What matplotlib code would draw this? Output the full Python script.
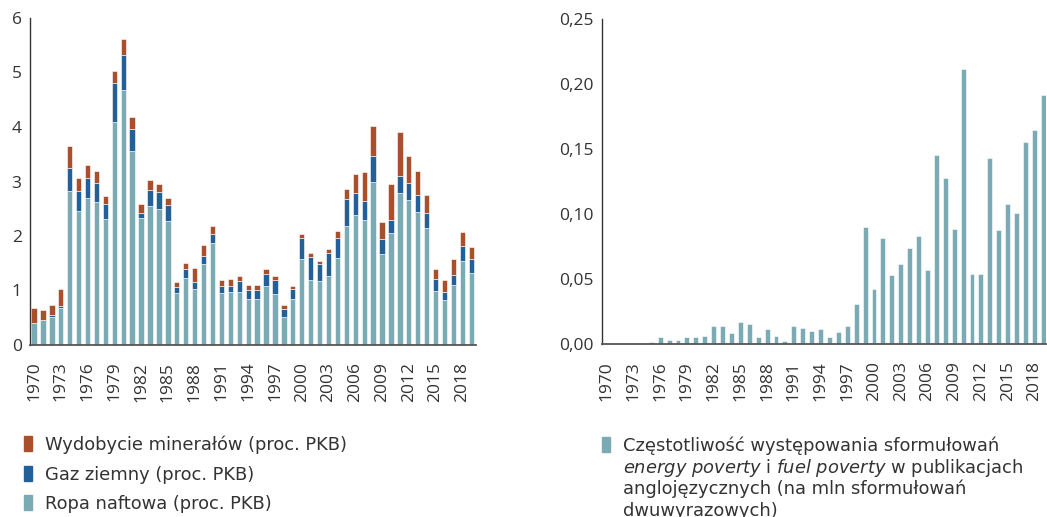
import matplotlib.pyplot as plt
from matplotlib.patches import Rectangle

plt.rcParams['font.family'] = ['Open Sans', 'DejaVu Sans']
plt.rcParams['mathtext.fontset'] = 'custom'
plt.rcParams['mathtext.it'] = 'DejaVu Sans:italic'
plt.rcParams['mathtext.rm'] = 'DejaVu Sans'

W, H = 1047, 517

years = list(range(1970, 2020))
tick_years = list(range(1970, 2020, 3))

# lewy wykres: skladniki (proc. PKB)
ropa = [0.40, 0.45, 0.52, 0.67, 2.83, 2.46, 2.70, 2.62, 2.31, 4.09,
        4.67, 3.56, 2.33, 2.55, 2.50, 2.28, 0.95, 1.23, 1.02, 1.49,
        1.87, 0.95, 0.97, 0.97, 0.84, 0.84, 1.08, 0.94, 0.51, 0.84,
        1.58, 1.19, 1.17, 1.27, 1.59, 2.18, 2.39, 2.29, 2.99, 1.67,
        2.06, 2.79, 2.66, 2.44, 2.15, 0.99, 0.83, 1.10, 1.54, 1.32]
gaz = [0.01, 0.01, 0.03, 0.05, 0.41, 0.37, 0.36, 0.35, 0.28, 0.71,
       0.65, 0.40, 0.09, 0.30, 0.31, 0.28, 0.11, 0.16, 0.14, 0.14,
       0.16, 0.13, 0.12, 0.20, 0.17, 0.17, 0.22, 0.26, 0.15, 0.18,
       0.39, 0.42, 0.31, 0.42, 0.38, 0.49, 0.39, 0.35, 0.47, 0.27,
       0.23, 0.32, 0.32, 0.31, 0.28, 0.23, 0.15, 0.18, 0.28, 0.25]
wydobycie = [0.26, 0.19, 0.18, 0.30, 0.42, 0.23, 0.24, 0.23, 0.14, 0.22,
             0.30, 0.22, 0.17, 0.18, 0.14, 0.14, 0.10, 0.12, 0.26, 0.20,
             0.15, 0.11, 0.13, 0.10, 0.10, 0.10, 0.09, 0.07, 0.08, 0.07,
             0.07, 0.07, 0.07, 0.07, 0.12, 0.19, 0.36, 0.53, 0.56, 0.31,
             0.67, 0.80, 0.49, 0.44, 0.32, 0.18, 0.22, 0.29, 0.26, 0.23]

# prawy wykres: czestotliwosc sformulowan
czestosc = [0.0008, 0.0, 0.0, 0.0003, 0.001, 0.002, 0.0054, 0.003, 0.0033, 0.006,
            0.006, 0.0064, 0.014, 0.014, 0.009, 0.017, 0.016, 0.0056, 0.012, 0.0064,
            0.0026, 0.014, 0.0128, 0.0103, 0.012, 0.0056, 0.0095, 0.014, 0.031, 0.090,
            0.0426, 0.0815, 0.053, 0.062, 0.074, 0.083, 0.057, 0.146, 0.128, 0.0887,
            0.212, 0.0538, 0.0538, 0.143, 0.088, 0.108, 0.101, 0.156, 0.165, 0.192]

c_red = '#a94f2c'
c_blue = '#236098'
c_teal = '#7aabb4'
c_text = '#333333'

fig = plt.figure(figsize=(W / 100, H / 100), dpi=100)


def box(x0, y0, x1, y1):
    return [x0 / W, 1 - y1 / H, (x1 - x0) / W, (y1 - y0) / H]


def style(ax):
    for s in ['top', 'right']:
        ax.spines[s].set_visible(False)
    ax.spines['left'].set_color('#333333')
    ax.spines['left'].set_linewidth(1.0)
    ax.spines['bottom'].set_color('#555555')
    ax.spines['bottom'].set_linewidth(1.3)
    ax.tick_params(axis='both', length=0, labelsize=12.5, colors=c_text)
    ax.tick_params(axis='y', pad=6)
    ax.tick_params(axis='x', pad=12)
    ax.set_xticks(tick_years)
    ax.set_xticklabels([str(y) for y in tick_years], rotation=90)


ax1 = fig.add_axes(box(30, 18, 476, 345))
ax1.bar(years, ropa, width=0.6, color=c_teal, edgecolor='white', linewidth=0.4)
bottom2 = ropa
ax1.bar(years, gaz, width=0.6, bottom=bottom2, color=c_blue, edgecolor='white', linewidth=0.4)
bottom3 = [a + b for a, b in zip(ropa, gaz)]
ax1.bar(years, wydobycie, width=0.6, bottom=bottom3, color=c_red, edgecolor='white', linewidth=0.4)
ax1.set_ylim(0, 6)
ax1.set_xlim(1970 - 0.45, 2019 + 0.53)
ax1.set_yticks(range(7))
style(ax1)

ax2 = fig.add_axes(box(601.7, 19.3, 1046, 344.3))
ax2.bar(years, czestosc, width=0.55, color=c_teal, edgecolor='white', linewidth=0.4)
ax2.set_ylim(0, 0.25)
ax2.set_xlim(1970 - 0.56, 2019 + 0.3)
ax2.set_yticks([0, 0.05, 0.10, 0.15, 0.20, 0.25])
ax2.set_yticklabels(['0,00', '0,05', '0,10', '0,15', '0,20', '0,25'])
style(ax2)

leg_font = 'DejaVu Sans'
leg_size = 12.9

# legenda lewa
leg_items = [(c_red, 'Wydobycie minerałów (proc. PKB)', 450),
             (c_blue, 'Gaz ziemny (proc. PKB)', 480),
             (c_teal, 'Ropa naftowa (proc. PKB)', 509)]
for col, label, base in leg_items:
    fig.add_artist(Rectangle((24 / W, 1 - (base + 1) / H), 8 / W, 15 / H,
                             transform=fig.transFigure, color=col))
    fig.text(45 / W, 1 - base / H, label, fontsize=leg_size, family=leg_font,
             color=c_text, va='baseline')

# legenda prawa
fig.add_artist(Rectangle((602 / W, 1 - 452 / H), 8 / W, 15 / H,
                         transform=fig.transFigure, color=c_teal))
lines = ['Częstotliwość występowania sformułowań',
         r'$energy\ poverty$ i $fuel\ poverty$ w publikacjach',
         'anglojęzycznych (na mln sformułowań',
         'dwuwyrazowych)']
for i, ln in enumerate(lines):
    fig.text(623 / W, 1 - (451 + 21.7 * i) / H, ln, fontsize=leg_size, family=leg_font,
             color=c_text, va='baseline')

fig.savefig('out.png', dpi=100)
